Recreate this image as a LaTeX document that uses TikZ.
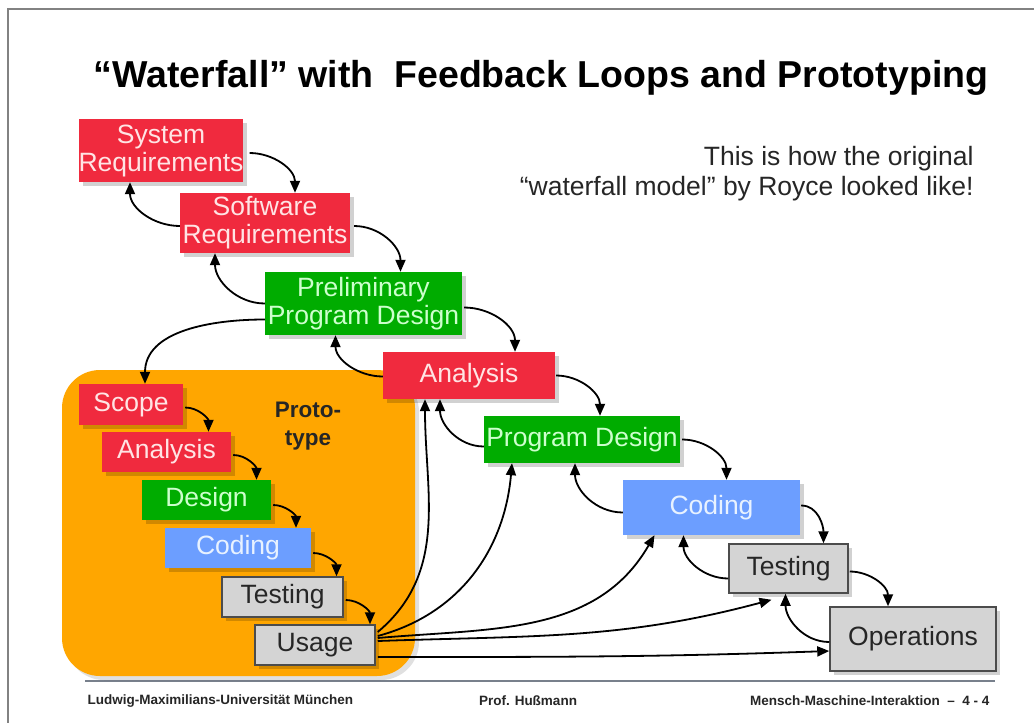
\documentclass[tikz,border=0pt]{standalone}
\usepackage{fontspec}
\setmainfont{Liberation Sans}
\usetikzlibrary{arrows.meta,shadows}
\definecolor{boxred}{RGB}{240,42,62}
\definecolor{boxgreen}{RGB}{0,172,0}
\definecolor{boxblue}{RGB}{108,158,255}
\definecolor{boxgray}{RGB}{212,212,212}
\definecolor{protoorange}{RGB}{255,166,0}
\definecolor{framegray}{RGB}{130,130,130}
\tikzset{
  stage/.style={inner sep=0pt, align=center, font=\fontsize{26.5}{28}\selectfont,
    drop shadow={shadow xshift=4pt, shadow yshift=-4pt, fill=black, opacity=0.18}},
  redbox/.style={stage, fill=boxred, text={rgb,255:red,255;green,228;blue,228}},
  greenbox/.style={stage, fill=boxgreen, text={rgb,255:red,205;green,255;blue,205}},
  bluebox/.style={stage, fill=boxblue, text={rgb,255:red,232;green,242;blue,255}},
  graybox/.style={stage, fill=boxgray, draw=black!70, line width=1.5pt, text=black!85},
  arr/.style={line width=1.8pt, -{Triangle[length=12pt,width=10pt]}},
  sz/.style 2 args={minimum width=#1pt, minimum height=#2pt},
  foot/.style={font=\bfseries\fontsize{13.5}{15}\selectfont, text=black!85}
}
\begin{document}
\begin{tikzpicture}[x=1pt,y=1pt]
\useasboundingbox (0,0) rectangle (1034,-723);
\fill[white] (0,0) rectangle (1034,-723);
% frame
\draw[framegray, line width=2.5pt] (8,-723) -- (8,-9) -- (1034,-9);
\draw[color={rgb,255:red,120;green,128;blue,140}, line width=2pt] (85,-681) -- (995,-681);

% title
\node[font=\bfseries\fontsize{37.5}{40}\selectfont] (title) at (541,-78) {“Waterfall” with\ \ Feedback Loops and Prototyping};
\node[anchor=north east, align=right, font=\fontsize{26.5}{30}\selectfont, text=black!85] (note) at (977,-143)
  {This is how the original\\“waterfall model” by Royce looked like!};

% prototype area
\fill[protoorange, rounded corners=38pt,
  drop shadow={shadow xshift=4pt, shadow yshift=-4pt, fill=black, opacity=0.12}]
  (62,-370) rectangle (415,-676);
\node[font=\bfseries\fontsize{22.5}{28}\selectfont, align=center, text=black!85] (protolabel) at (308,-426) {Proto-\\type};

% main waterfall
\node[redbox, sz={164}{63}] (sysreq) at (161,-150.5) {System\\Requirements};
\node[redbox, sz={170}{60}] (swreq) at (265,-223) {Software\\Requirements};
\node[greenbox, sz={197}{63}] (ppd) at (363.5,-303.5) {Preliminary\\Program Design};
\node[redbox, sz={172}{47}] (ana) at (469,-375.5) {Analysis};
\node[greenbox, sz={196}{47}] (pd) at (582,-439.5) {Program Design};
\node[bluebox, sz={177}{55}] (cod) at (711.5,-507.5) {Coding};
\node[graybox, sz={119}{49}] (tst) at (788.5,-568.5) {Testing};
\node[graybox, sz={166}{64}] (ops) at (913,-639) {Operations};

% prototype chain
\node[redbox, sz={104}{41}] (pscope) at (131,-404.5) {Scope};
\node[redbox, sz={129}{40}] (pana) at (166.5,-452) {Analysis};
\node[greenbox, sz={129}{40}] (pdes) at (206.5,-500) {Design};
\node[bluebox, sz={146}{40}] (pcod) at (238,-548) {Coding};
\node[graybox, sz={121}{40}] (ptst) at (282.5,-597) {Testing};
\node[graybox, sz={120}{40}] (puse) at (315,-645) {Usage};

% forward arrows
\draw[arr] ([xshift=6pt,yshift=-2.5pt]sysreq.east) to[out=0,in=90] ([xshift=30pt]swreq.north);
\draw[arr] ([xshift=4pt,yshift=-3pt]swreq.east) to[out=0,in=90] ([xshift=37pt]ppd.north);
\draw[arr] ([xshift=2pt,yshift=-4pt]ppd.east) to[out=0,in=90] ([xshift=46pt]ana.north);
\draw[arr] ([xshift=1pt]ana.east) to[out=0,in=90] ([xshift=18pt]pd.north);
\draw[arr] ([xshift=2pt]pd.east) to[out=0,in=90] ([xshift=15pt]cod.north);
\draw[arr] ([xshift=1pt,yshift=2pt]cod.east) to[out=0,in=90] ([xshift=35pt]tst.north);
\draw[arr] ([xshift=1pt,yshift=-3pt]tst.east) to[out=0,in=90] ([xshift=-25pt]ops.north);

% backward arrows
\draw[arr] ([yshift=-3pt]swreq.west) to[out=180,in=-90] ([xshift=-31pt]sysreq.south);
\draw[arr] ([yshift=0pt]ppd.west) to[out=180,in=-90] ([xshift=-50pt]swreq.south);
\draw[arr] ([yshift=-1pt]ana.west) to[out=180,in=-90] ([xshift=-28pt]ppd.south);
\draw[arr] ([yshift=-7pt]pd.west) to[out=180,in=-90] ([xshift=-29pt]ana.south);
\draw[arr] ([yshift=-5pt]cod.west) to[out=180,in=-90] ([xshift=-7pt]pd.south);
\draw[arr] ([yshift=-10pt]tst.west) to[out=180,in=-90] ([xshift=-28pt]cod.south);
\draw[arr] ([yshift=-3pt]ops.west) to[out=180,in=-90] ([xshift=-3pt]tst.south);

% into prototype
\draw[arr] ([yshift=-16pt]ppd.west) to[out=180,in=90] ([xshift=14pt]pscope.north);

% prototype chain arrows
\draw[arr] ([xshift=2pt,yshift=-3pt]pscope.east) to[out=0,in=90] ([xshift=42pt]pana.north);
\draw[arr] ([xshift=2pt,yshift=-3pt]pana.east) to[out=0,in=90] ([xshift=50pt]pdes.north);
\draw[arr] ([xshift=2pt,yshift=-5pt]pdes.east) to[out=0,in=90] ([xshift=58pt]pcod.north);
\draw[arr] ([xshift=2pt,yshift=-5pt]pcod.east) to[out=0,in=90] ([xshift=54pt]ptst.north);
\draw[arr] ([xshift=2pt,yshift=-3pt]ptst.east) to[out=0,in=90] ([xshift=55pt]puse.north);

% usage feedback arrows
\draw[arr] ([xshift=2pt,yshift=13pt]puse.east) to[out=40,in=-90] ([xshift=-44pt]ana.south);
\draw[arr] ([xshift=2pt,yshift=9pt]puse.east) to[out=15,in=-95] ([xshift=-70pt]pd.south);
\draw[arr] ([xshift=2pt,yshift=7pt]puse.east) to[out=5,in=-120] ([xshift=-57pt]cod.south);
\draw[arr] ([xshift=2pt,yshift=4pt]puse.east) to[out=2,in=-165] ([xshift=-17pt,yshift=-6pt]tst.south);
\draw[arr] ([xshift=2pt,yshift=-12pt]puse.east) to[out=0,in=182] ([yshift=-12pt]ops.west);

% footer
\node[anchor=west, foot] (f1) at (84,-701) {Ludwig-Maximilians-Universität München};
\node[foot] (f2) at (528,-701) {Prof. Hußmann};
\node[anchor=east, foot] (f3) at (993,-701) {Mensch-Maschine-Interaktion\ \ –\ \ 4 - 4};
\end{tikzpicture}
\end{document}
